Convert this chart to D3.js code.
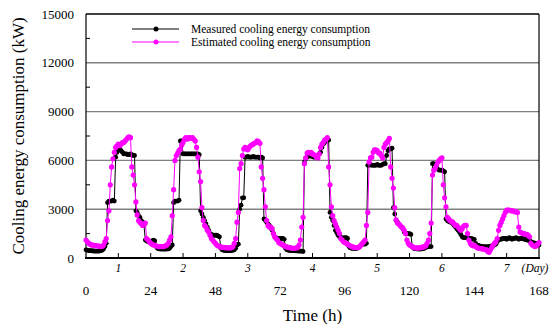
<!DOCTYPE html>
<html>
<head>
<meta charset="utf-8">
<script src="https://d3js.org/d3.v7.min.js"></script>
<style>
  html, body { margin: 0; padding: 0; background: #fff; }
  text { font-family: "Liberation Serif", "Times New Roman", serif; fill: #000; }
</style>
</head>
<body>
<div id="chart"></div>
<script>
// half-hourly values, t = 0 .. 168 h
const measured = [
  // day 1
  500,480,450,450,450,430,430,420,420,420,430,450,480,550,700,900,
  3400,3500,3500,3500,3550,3500,
  6200,6500,6650,6700,6600,6500,6400,6400,6400,6350,6350,6400,6350,6300,6300,
  2900,2800,2600,2500,2300,2200,2000,1100,1050,1000,1000,
  // day 2
  1000,1050,1100,1050,700,600,560,550,550,540,540,550,550,560,600,700,
  800,3400,3500,3500,3500,3550,
  7200,7200,6400,6400,6400,6400,6400,6400,6400,6400,6400,6400,6400,6400,6350,
  2900,2700,2500,2300,2100,1900,1700,1500,1450,1400,1400,
  // day 3
  1400,1400,1350,1300,600,500,470,460,450,450,450,450,460,470,500,600,
  800,850,3000,3250,3700,3700,
  6200,6200,6250,6200,6200,6200,6250,6200,6200,6200,6200,6150,6200,6150,
  2400,2300,2200,2100,2000,1900,1700,1500,1300,1250,1200,1200,
  // day 4
  1200,1200,1200,1150,600,500,480,460,450,450,450,440,440,430,430,420,420,400,
  5900,6100,6200,6250,6300,6250,6250,6200,6200,6250,6300,6400,6500,6800,7000,7100,7200,7250,7250,
  2800,2500,2300,2000,1700,1550,1400,1300,1250,1250,1200,
  // day 5
  1250,1250,1200,700,620,600,600,580,580,600,620,700,800,850,850,850,900,
  5700,5700,5750,5700,5700,5700,5700,5750,5700,5700,5700,5750,5800,5800,
  6300,6600,6700,6700,6750,
  3100,2700,2300,2200,2100,2000,1900,1800,1600,1500,1500,1500,
  // day 6
  1500,1450,700,600,580,560,550,550,550,560,580,600,650,680,700,700,700,
  5800,5800,5750,5600,5450,5400,5400,5400,5350,5300,
  2400,2300,2250,2200,2200,2100,2000,1900,1800,1700,1600,1450,1300,1250,1250,1250,1250,1200,1200,1200,1150,
  // day 7
  1150,900,800,780,750,720,700,700,700,680,700,700,720,740,760,800,850,1000,
  1100,1150,1150,1200,1200,1200,1150,1200,1250,1200,1150,1200,1200,1250,1200,1150,
  1200,1200,1200,1150,1150,1100,1100,1050,1000,950,950,900,900,850,800
];

const estimated = [
  // day 1
  1100,1000,900,850,800,800,780,760,750,750,720,700,720,800,1000,1200,
  2300,2900,4500,5600,6100,6500,6800,6900,7000,6900,7000,7100,7100,7200,7300,7400,7450,7400,
  5600,5100,4500,3450,2650,2300,2200,2100,2000,2100,2150,1200,1100,1000,
  // day 2
  900,850,800,780,750,720,700,700,700,700,720,750,800,900,1100,1300,
  2600,4200,6000,6300,6450,6600,6700,6950,7100,7300,7400,7300,7400,7400,7350,7400,7300,7200,6800,6200,
  5300,4700,3100,2300,2000,1900,1700,1600,1400,1200,1100,1000,
  // day 3
  900,800,750,700,680,650,650,640,630,630,620,620,650,700,900,1200,
  2200,2800,5500,5800,6300,6700,6800,6700,6650,6800,6900,6950,7000,7050,7100,7200,7150,7050,
  5600,4900,4200,3150,2300,2000,1900,1900,1800,1500,1300,1200,1100,950,
  // day 4
  900,850,800,750,700,680,650,640,620,600,600,600,620,650,800,1100,1900,2500,
  5800,6150,6450,6500,6450,6500,6400,6350,6300,6200,6150,6400,6800,7000,7100,7250,7300,7400,
  5600,4500,3150,2600,2300,2100,1900,1700,1500,1200,1100,1000,
  // day 5
  950,900,850,800,750,700,680,650,640,630,650,700,800,900,1000,1100,2000,2800,
  5900,6150,6200,6500,6650,6650,6600,6450,6450,6300,6150,6800,7000,7100,7200,7350,
  5600,4900,4300,3100,2350,2150,2100,2000,1900,1850,1700,1500,1100,900,
  // day 6
  800,750,700,650,630,620,620,620,630,650,680,700,750,900,1100,1500,2150,
  5100,5400,5500,5700,5900,6000,6100,6150,
  4500,3700,3150,2500,2400,2300,2250,2200,2100,2000,2000,1900,1800,1700,1800,1950,2000,2000,1500,1100,900,800,750,
  // day 7
  800,700,650,600,600,580,560,550,520,500,
  400,350,500,650,800,900,1000,1200,1700,2000,
  2200,2400,2600,2800,2950,2950,2950,2900,2900,2900,
  2850,2850,2800,1900,1600,1550,1500,1500,1450,1450,
  1400,1300,900,800,750,700,750,850,950
];

const hourTicks = [0, 24, 48, 72, 96, 120, 144, 168];
const dayLabels = ["1", "2", "3", "4", "5", "6", "7"];
const yTicks = [0, 3000, 6000, 9000, 12000, 15000];
const legendItems = ["Measured cooling energy consumption", "Estimated cooling energy consumption"];

const width = 551;
const height = 324;
const step = 0.5; // sampling interval (h)

const svg = d3.select("#chart").append("svg")
  .attr("width", width)
  .attr("height", height);

const x = d3.scaleLinear().domain([0, 168]).range([86, 539]);
const y = d3.scaleLinear().domain([0, 15000]).range([258, 14]);

// grid lines
svg.append("g")
  .selectAll("line")
  .data([3000, 6000, 9000, 12000])
  .join("line")
  .attr("x1", x(0)).attr("x2", x(168))
  .attr("y1", d => y(d)).attr("y2", d => y(d))
  .attr("stroke", "#808080")
  .attr("stroke-width", 1.4);

// minor y ticks (inward)
svg.append("g")
  .selectAll("line")
  .data(d3.range(1500, 15000, 3000))
  .join("line")
  .attr("x1", x(0)).attr("x2", x(0) + 4)
  .attr("y1", d => y(d)).attr("y2", d => y(d))
  .attr("stroke", "#000");

// x ticks every 12 h (inward)
svg.append("g")
  .selectAll("line")
  .data(d3.range(12, 168, 12))
  .join("line")
  .attr("x1", d => x(d)).attr("x2", d => x(d))
  .attr("y1", y(0)).attr("y2", y(0) - 5)
  .attr("stroke", "#000");

// frame
svg.append("line").attr("x1", x(0)).attr("x2", x(168)).attr("y1", y(15000)).attr("y2", y(15000))
  .attr("stroke", "#000").attr("stroke-width", 1.4);
svg.append("line").attr("x1", x(168)).attr("x2", x(168)).attr("y1", y(15000)).attr("y2", y(0))
  .attr("stroke", "#000").attr("stroke-width", 1.2);
svg.append("line").attr("x1", x(0)).attr("x2", x(0)).attr("y1", y(15000)).attr("y2", y(0))
  .attr("stroke", "#000").attr("stroke-width", 1.2);
svg.append("line").attr("x1", x(0) - 1).attr("x2", x(168) + 1).attr("y1", y(0)).attr("y2", y(0))
  .attr("stroke", "#000").attr("stroke-width", 2);

// y labels
svg.append("g")
  .selectAll("text")
  .data(yTicks)
  .join("text")
  .attr("x", 74)
  .attr("y", d => y(d) + 4.5)
  .attr("text-anchor", "end")
  .attr("font-size", 13)
  .text(d => d);

// hour labels
svg.append("g")
  .selectAll("text")
  .data(hourTicks)
  .join("text")
  .attr("x", d => x(d))
  .attr("y", 295)
  .attr("text-anchor", "middle")
  .attr("font-size", 13)
  .text(d => d);

// day labels
svg.append("g")
  .selectAll("text")
  .data(dayLabels)
  .join("text")
  .attr("x", (d, i) => x(12 + 24 * i))
  .attr("y", 272)
  .attr("text-anchor", "middle")
  .attr("font-size", 11.5)
  .attr("font-style", "italic")
  .text(d => d);

svg.append("text")
  .attr("x", 535).attr("y", 272)
  .attr("text-anchor", "middle")
  .attr("font-size", 11.5)
  .attr("font-style", "italic")
  .text("(Day)");

// axis titles
svg.append("text")
  .attr("x", x(84)).attr("y", 321)
  .attr("text-anchor", "middle")
  .attr("font-size", 17)
  .text("Time (h)");

svg.append("text")
  .attr("transform", `translate(24,${y(7500)}) rotate(-90)`)
  .attr("text-anchor", "middle")
  .attr("font-size", 17)
  .text("Cooling energy consumption (kW)");

// series
const series = [
  { values: measured, color: "#000000", r: 2.4 },
  { values: estimated, color: "#ff00ff", r: 2.6 }
];

const line = d3.line()
  .x((d, i) => x(i * step))
  .y(d => y(d));

series.forEach(s => {
  const g = svg.append("g");
  g.append("path")
    .datum(s.values)
    .attr("d", line)
    .attr("fill", "none")
    .attr("stroke", s.color)
    .attr("stroke-width", 1);
  g.selectAll("circle")
    .data(s.values)
    .join("circle")
    .attr("cx", (d, i) => x(i * step))
    .attr("cy", d => y(d))
    .attr("r", s.r)
    .attr("fill", s.color);
});

// legend
const legend = svg.append("g");
legendItems.forEach((label, i) => {
  const ly = 29 + i * 13;
  legend.append("line")
    .attr("x1", 132).attr("x2", 179)
    .attr("y1", ly).attr("y2", ly)
    .attr("stroke", series[i].color)
    .attr("stroke-width", 1);
  legend.append("circle")
    .attr("cx", 156).attr("cy", ly)
    .attr("r", 2.5)
    .attr("fill", series[i].color);
  legend.append("text")
    .attr("x", 191).attr("y", ly + 3.5)
    .attr("font-size", 11.5)
    .text(label);
});
</script>
</body>
</html>
